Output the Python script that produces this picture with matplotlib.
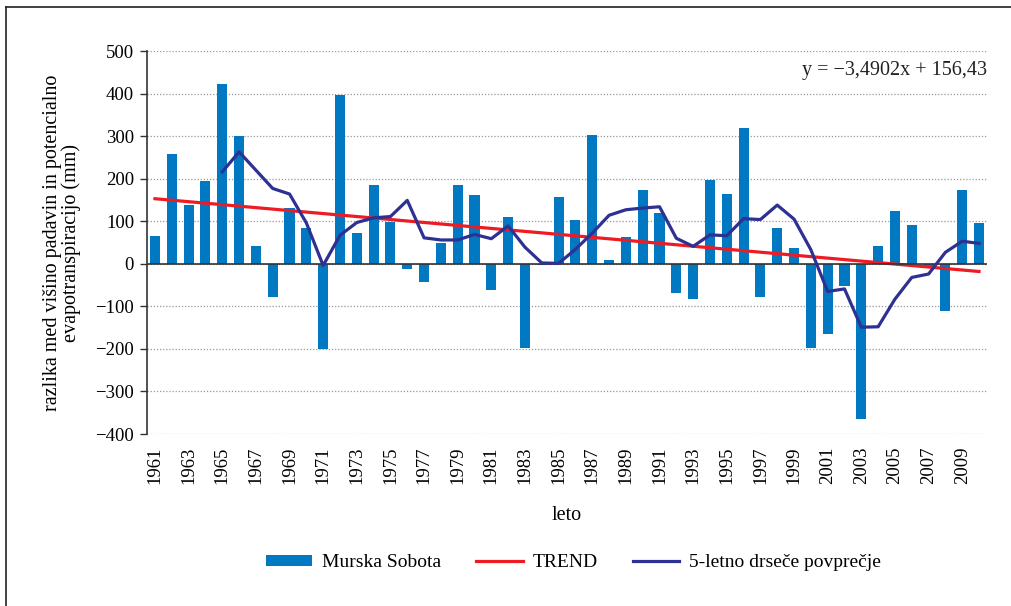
import numpy as np
import matplotlib
matplotlib.use("Agg")
import matplotlib.pyplot as plt
from matplotlib.lines import Line2D

plt.rcParams['font.family'] = ['Liberation Serif', 'DejaVu Serif']

years = list(range(1961, 2011))
# razlika med padavinami in potencialno evapotranspiracijo (mm)
diff = [66, 259, 137, 195, 423, 301, 43, -78, 131, 85,
        -200, 397, 73, 186, 99, -12, -43, 50, 186, 162,
        -62, 109, -198, -3, 158, 102, 303, 10, 64, 174,
        120, -69, -83, 198, 165, 320, -78, 83, 36, -198,
        -166, -52, -365, 43, 123, 90, -10, -112, 174, 97]
# 5-letno drseče povprečje (od 1965 naprej)
ma_years = list(range(1965, 2011))
ma_vals = [216, 263, 220, 177, 164, 96, -4, 67, 97, 108,
           111, 149, 61, 56, 56, 69, 59, 89, 39, 2,
           1, 34, 72, 114, 127, 131, 134, 60, 41, 68,
           66, 106, 104, 138, 105, 33, -65, -59, -149, -148,
           -83, -32, -24, 27, 53, 48]
trend_slope = -3.4902
trend_intercept = 156.43

bar_color = '#0079c2'
trend_color = '#ed1c24'
ma_color = '#2e3192'

fig = plt.figure(figsize=(10.11, 6.06), dpi=100)
ax = fig.add_axes([0.145, 0.2838, 0.8317, 0.632])

x = np.arange(len(years))
bars = ax.bar(x, diff, width=0.6, color=bar_color, label='Murska Sobota', zorder=2)

t = x + 1
trend_line, = ax.plot(x, trend_slope * t + trend_intercept, color=trend_color, lw=2.3,
                      label='TREND', zorder=3)

ma_x = [years.index(y) for y in ma_years]
ma_line, = ax.plot(ma_x, ma_vals, color=ma_color, lw=2.3,
                   label='5-letno drseče povprečje', zorder=4)

ax.set_xlim(-0.5, len(years) - 0.5)
ax.set_ylim(-400, 500)
ax.set_yticks(range(-400, 501, 100))
ax.set_yticklabels([str(v).replace('-', '\u2212') for v in range(-400, 501, 100)])
ax.yaxis.grid(True, linestyle=(0, (1, 1.5)), color='#999999', lw=0.9, zorder=0)
ax.set_axisbelow(True)
ax.axhline(0, color='#333333', lw=1.2, zorder=3)

ax.set_xticks(x[::2])
ax.set_xticklabels([str(y) for y in years[::2]], rotation=90)
ax.tick_params(axis='x', length=0, pad=9, labelsize=13.5)
ax.tick_params(axis='y', length=5, width=1, color='#333333', labelsize=13.5, pad=4)

for s in ['top', 'right', 'bottom']:
    ax.spines[s].set_visible(False)
ax.spines['left'].set_color('#333333')
ax.spines['left'].set_linewidth(1.2)

ax.set_ylabel('razlika med višino padavin in potencialno\nevapotranspiracijo (mm)',
              fontsize=14.5, labelpad=10, linespacing=1.0)
ax.set_xlabel('leto', fontsize=14.5, labelpad=16)

ax.text(1.0, 0.948, 'y = \u22123,4902x + 156,43', transform=ax.transAxes,
        ha='right', va='center', fontsize=14.5, color='#222222')

fig.legend([bars, trend_line, ma_line],
           ['Murska Sobota', 'TREND', '5-letno drseče povprečje'],
           loc='center', bbox_to_anchor=(0.567, 0.071), ncol=3, frameon=False,
           fontsize=14, handlelength=2.4, handleheight=0.55, columnspacing=1.8,
           handletextpad=0.5)

# okvir slike
fig.add_artist(Line2D([6 / 1011, 6 / 1011], [0, 1 - 7 / 606], transform=fig.transFigure,
                      color='#222222', lw=1.2))
fig.add_artist(Line2D([6 / 1011, 1], [1 - 7 / 606, 1 - 7 / 606], transform=fig.transFigure,
                      color='#222222', lw=1.2))

fig.savefig('out.png', dpi=100)
